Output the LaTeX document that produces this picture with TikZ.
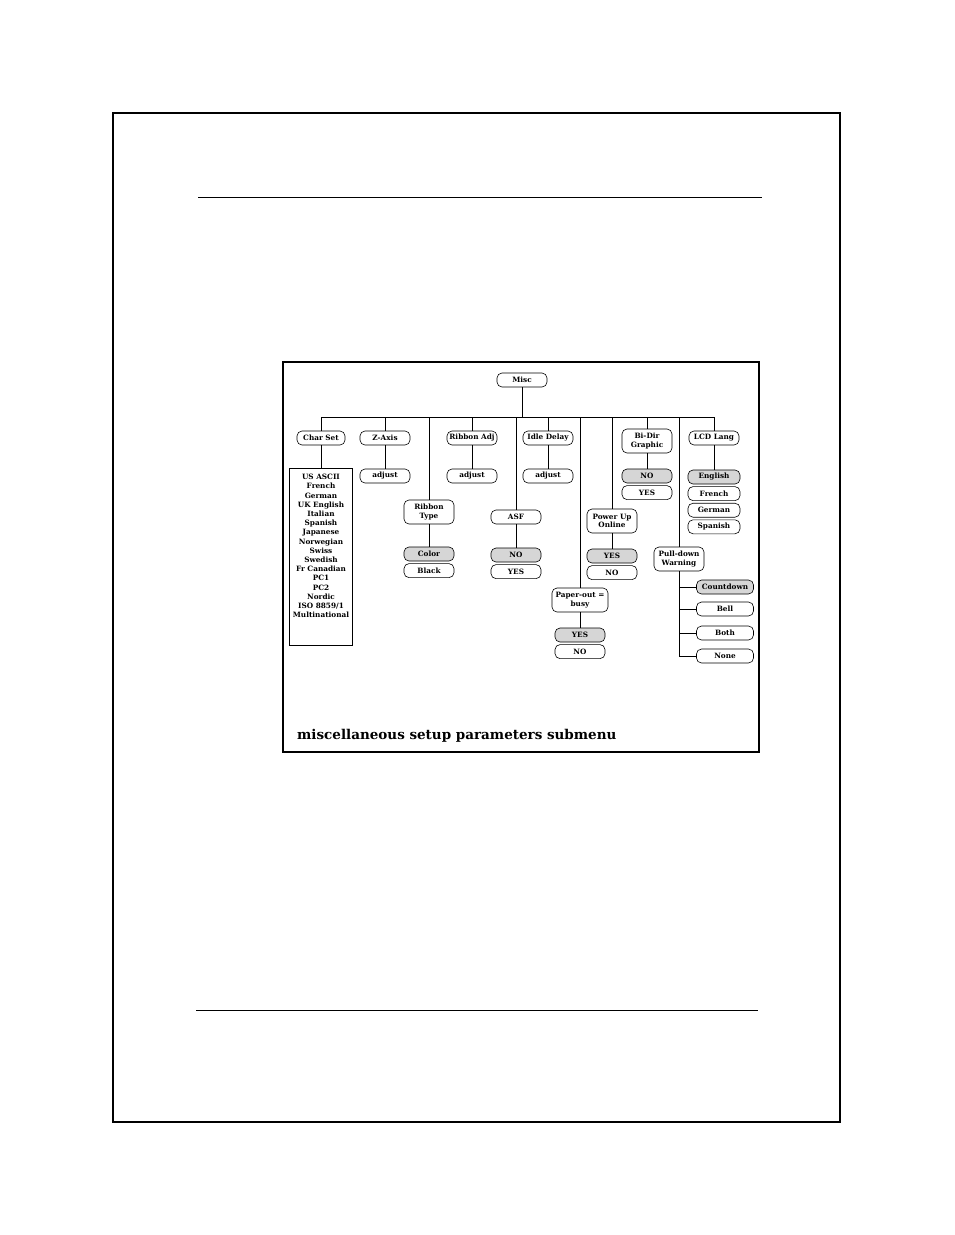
\documentclass[tikz,border=0pt]{standalone}
\usepackage{fontspec}
\setmainfont{DejaVu Serif}
\usetikzlibrary{positioning}

\begin{document}
\begin{tikzpicture}
          [x=1pt, y=-1pt,
          opt/.style={draw, rounded corners=5pt, minimum width=50pt, minimum height=14pt,
            inner xsep=2pt, inner ysep=1pt, align=center, line width=0.6pt,
            font=\fontsize{7.3}{8.6}\selectfont\bfseries},
          dflt/.style={opt, fill=black!16},
          twoline/.style={opt, minimum height=24pt},
          wire/.style={line width=0.6pt}]
          \useasboundingbox (0,0) rectangle (954,1235);
          \draw[line width=1.3pt] (113,113) rectangle (840,1122);
          \draw[line width=0.9pt] (198,197) -- (762,197);
          \draw[line width=0.9pt] (196,1010) -- (758,1010);
          \draw[line width=1.4pt] (283,362) rectangle (759,752);

          \node (misc) [opt] at (522,380) {Misc};
          \coordinate (bar) at (522,417);

          \node (charset) [opt, minimum width=48pt] at (321,438) {Char Set};
          \node (zaxis) [opt] at (385,438) {Z-Axis};
          \node (ribadj) [opt] at (472,438) {Ribbon Adj};
          \node (idle) [opt] at (548,438) {Idle Delay};
          \node (bidir) [twoline] at (647,441) {Bi-Dir\\Graphic};
          \node (lcd) [opt] at (714,438) {LCD Lang};

          \node (charbox) [draw, line width=0.6pt, minimum width=63pt, minimum height=177pt, anchor=north] at (321,468) {};
          \node (charlist) [anchor=north, align=center, inner sep=0pt,
            font=\fontsize{7.3}{9.2}\selectfont\bfseries] at (321,474)
            {US ASCII\\French\\German\\UK English\\Italian\\Spanish\\Japanese\\Norwegian\\Swiss\\Swedish\\Fr Canadian\\PC1\\PC2\\Nordic\\ISO 8859/1\\Multinational};

          \node (zadj) [opt] at (385,476) {adjust};
          \node (radj) [opt] at (472,476) {adjust};
          \node (iadj) [opt] at (548,476) {adjust};

          \node (bino) [dflt] at (647,476) {NO};
          \node (biyes) [opt, below = 2pt of bino] {YES};

          \node (english) [dflt, minimum width=52pt] at (714,477) {English};
          \node (french) [opt, minimum width=52pt, below = 2pt of english] {French};
          \node (german) [opt, minimum width=52pt, below = 2pt of french] {German};
          \node (spanish) [opt, minimum width=52pt, below = 2pt of german] {Spanish};

          \node (ribtype) [twoline] at (429,512) {Ribbon\\Type};
          \node (color) [dflt] at (429,554) {Color};
          \node (black) [opt, below = 2pt of color] {Black};

          \node (asf) [opt] at (516,517) {ASF};
          \node (asfno) [dflt] at (516,555) {NO};
          \node (asfyes) [opt, below = 2pt of asfno] {YES};

          \node (power) [twoline] at (612,521) {Power Up\\Online};
          \node (poweryes) [dflt] at (612,556) {YES};
          \node (powerno) [opt, below = 2pt of poweryes] {NO};

          \node (paper) [twoline, minimum width=56pt] at (580,600) {Paper-out =\\busy};
          \node (paperyes) [dflt] at (580,635) {YES};
          \node (paperno) [opt, below = 2pt of paperyes] {NO};

          \node (pulldown) [twoline] at (679,559) {Pull-down\\Warning};
          \node (countdown) [dflt, minimum width=57pt] at (725,587) {Countdown};
          \node (bell) [opt, minimum width=57pt] at (725,609) {Bell};
          \node (both) [opt, minimum width=57pt] at (725,633) {Both};
          \node (none) [opt, minimum width=57pt] at (725,656) {None};

          \node (title) [anchor=base west, inner sep=0pt, font=\fontsize{13.5}{16}\selectfont\bfseries] at (297,739)
            {miscellaneous setup parameters submenu};

          \draw[wire] (misc) -- (bar);
          \draw[wire] (charset |- bar) -- (lcd |- bar);
          \foreach \n in {charset, zaxis, ribadj, idle, bidir, lcd, ribtype, asf, power, paper, pulldown}
            \draw[wire] (\n |- bar) -- (\n);
          \draw[wire] (charset) -- (charbox);
          \draw[wire] (zaxis) -- (zadj);
          \draw[wire] (ribadj) -- (radj);
          \draw[wire] (idle) -- (iadj);
          \draw[wire] (bidir) -- (bino);
          \draw[wire] (lcd) -- (english);
          \draw[wire] (ribtype) -- (color);
          \draw[wire] (asf) -- (asfno);
          \draw[wire] (power) -- (poweryes);
          \draw[wire] (paper) -- (paperyes);
          \draw[wire] (pulldown) -- (pulldown |- none);
          \foreach \n in {countdown, bell, both, none}
            \draw[wire] (pulldown |- \n) -- (\n);
        \end{tikzpicture}
\end{document}
